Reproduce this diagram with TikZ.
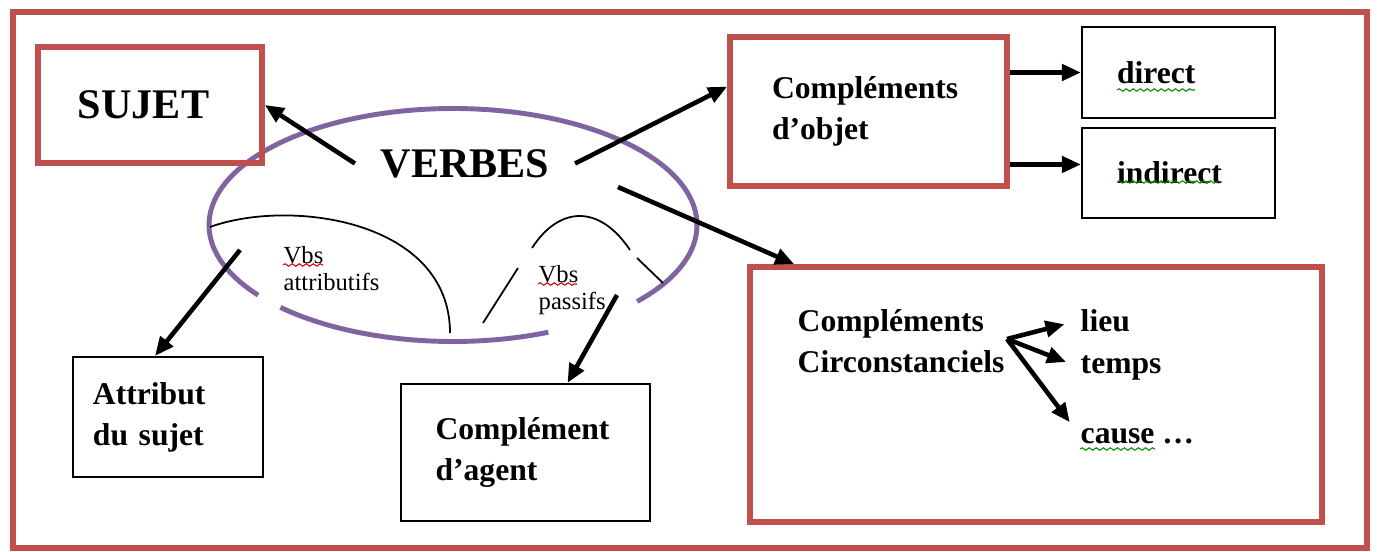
\documentclass[tikz,border=0pt]{standalone}
\usepackage{fontspec}
\setmainfont{Liberation Serif}
\usetikzlibrary{arrows.meta,decorations.pathmorphing}

\begin{document}
\begin{tikzpicture}[
  redbox/.style={shape=rectangle,draw=gram_red,line width=1.6pt,align=left,font=\fontsize{9}{11.7}\selectfont\bfseries},
  blackbox/.style={shape=rectangle,draw,line width=0.6pt,align=left,font=\fontsize{9}{11.7}\selectfont\bfseries},
  bigword/.style={inner sep=0pt,font=\fontsize{12}{14}\selectfont\bfseries},
  boldword/.style={inner sep=0pt,align=left,font=\fontsize{9}{11.7}\selectfont\bfseries},
  smallword/.style={inner sep=0pt,align=left,anchor=north west,font=\fontsize{7}{7.7}\selectfont},
  linkarrow/.style={-{Triangle[length=0.19cm,width=0.16cm]},line width=1.3pt},
  thincurve/.style={line width=0.5pt},
  spellred/.style={draw=red!85!black,line width=0.3pt,decorate,decoration={snake,amplitude=0.35pt,segment length=2pt}},
  spellgreen/.style={draw=green!55!black,line width=0.3pt,decorate,decoration={snake,amplitude=0.35pt,segment length=2pt}}
]
\definecolor{gram_red}{RGB}{192,80,77}
\definecolor{gram_oval}{RGB}{128,100,162}
\useasboundingbox (0,0) rectangle (13.77,5.51);
\draw[draw=gram_red,line width=1.5pt] (0.13,0.03) rectangle (13.67,5.39);
% the oval of the verbs, broken where the small texts lie over it
\draw[draw=gram_oval,line width=1.4pt] (225:2.44 and 1.165) ++(4.53,3.26) arc[start angle=225,end angle=293,x radius=2.44,y radius=1.165];
\draw[draw=gram_oval,line width=1.4pt] (319:2.44 and 1.165) ++(4.53,3.26) arc[start angle=319,end angle=577,x radius=2.44,y radius=1.165];
\draw[thincurve] (2.10,3.24) .. controls (2.90,3.53) and (4.50,3.31) .. (4.50,2.18);
\draw[thincurve] (4.83,2.28) -- (5.18,2.83);
\draw[thincurve] (5.32,3.03) .. controls (5.60,3.46) and (6.00,3.46) .. (6.30,3.01);
\draw[thincurve] (6.37,2.93) -- (6.63,2.68);
\node[bigword,inner sep=0.25cm] (verbes) at (4.65,3.875) {VERBES};
\node[smallword] (vbsattr) at (2.83,3.05) {Vbs\\attributifs};
\node[smallword] (vbspass) at (5.38,2.86) {Vbs\\passifs};
% boxes
\node[redbox,minimum width=2.24cm,minimum height=1.16cm,text width=1.44cm,font=\fontsize{12}{14}\selectfont\bfseries] (sujet) at (1.50,4.46) {SUJET};
\node[redbox,minimum width=2.77cm,minimum height=1.49cm,text width=1.93cm] (objet) at (8.685,4.395) {Compléments\\d'objet};
\node[blackbox,minimum width=1.93cm,minimum height=0.91cm,text width=1.23cm] (direct) at (11.785,4.785) {direct};
\node[blackbox,minimum width=1.93cm,minimum height=0.90cm,text width=1.23cm] (indirect) at (11.785,3.78) {indirect};
\node[blackbox,minimum width=1.90cm,minimum height=1.20cm,text width=1.50cm] (attribut) at (1.68,1.34) {Attribut\\du sujet};
\node[blackbox,minimum width=2.49cm,minimum height=1.37cm,text width=1.80cm] (agent) at (5.255,0.985) {Complément\\d'agent};
\node[redbox,minimum width=5.72cm,minimum height=2.55cm] (circ) at (10.36,1.565) {};
\node[boldword,anchor=west] (cctxt) at (7.97,2.10) {Compléments\\Circonstanciels};
\node[boldword,anchor=base west] (lieu) at (10.80,2.20) {lieu};
\node[boldword,anchor=base west] (temps) at (10.80,1.78) {temps};
\node[boldword,anchor=base west] (cause) at (10.80,1.08) {cause …};
% where the arrows leave the oval
\coordinate (outattr) at (2.40,3.01);
\coordinate (outpass) at (6.17,2.56);
\coordinate (outcirc) at (6.18,3.64);
\coordinate (fork) at (10.07,2.12);
% arrows
\draw[linkarrow] (verbes.west) to (sujet.east);
\draw[linkarrow] (verbes.east) to (objet.170);
\draw[linkarrow] (outcirc) to ([xshift=0.47cm]circ.north west);
\draw[linkarrow] (outattr) to ([xshift=-0.13cm]attribut.north);
\draw[linkarrow] (outpass) to ([xshift=0.42cm]agent.north);
\draw[linkarrow] (objet.east |- direct) to (direct);
\draw[linkarrow] (objet.east |- indirect.175) to (indirect.175);
\draw[linkarrow,shorten >=0.16cm] (fork) to (lieu.west);
\draw[linkarrow,shorten >=0.15cm] (fork) to (temps.west);
\draw[linkarrow,shorten >=0.17cm] (fork) to (cause.west);
% spelling marks
\draw[spellred] (2.83,2.86) -- (3.23,2.86);
\draw[spellred] (5.38,2.67) -- (5.77,2.67);
\draw[spellgreen] (11.17,4.61) -- (11.95,4.61);
\draw[spellgreen] (11.17,3.69) -- (12.18,3.69);
\draw[spellgreen] (10.80,1.02) -- (11.55,1.02);
\end{tikzpicture}
\end{document}
